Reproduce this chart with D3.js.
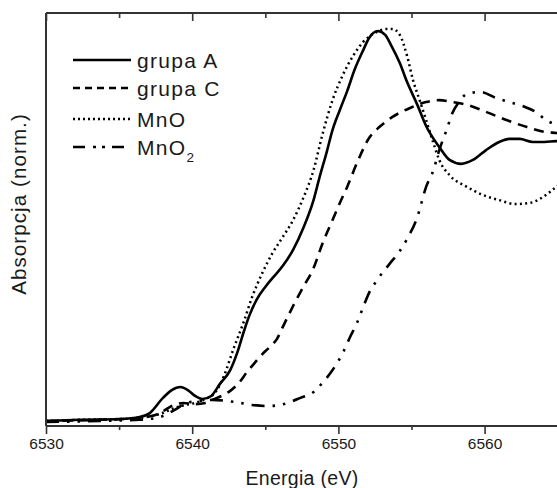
<!DOCTYPE html>
<html>
<head>
<meta charset="utf-8">
<script src="https://cdn.jsdelivr.net/npm/d3@7/dist/d3.min.js"></script>
<style>
    body { margin: 0; background: #fff; }
    text { font-family: Arial, "Liberation Sans", sans-serif; fill: #1a1a1a; }
</style>
</head>
<body>
<div id="chart"></div>
<script>
// [energy (eV), normalised absorption]
const grupaA = [
    [6530.0, 0.000], [6532.3, 0.004], [6535.1, 0.007], [6536.4, 0.014], [6537.1, 0.028],
    [6538.0, 0.082], [6538.6, 0.110], [6539.2, 0.121], [6539.7, 0.110], [6540.2, 0.089],
    [6540.7, 0.078], [6541.3, 0.089], [6541.9, 0.132], [6542.6, 0.181], [6543.1, 0.246],
    [6543.5, 0.313], [6543.9, 0.374], [6544.4, 0.431], [6545.0, 0.477], [6545.5, 0.509],
    [6546.2, 0.552], [6546.9, 0.609], [6547.6, 0.687], [6548.3, 0.786], [6548.7, 0.865],
    [6549.2, 0.957], [6549.6, 1.036], [6550.1, 1.107], [6550.6, 1.174], [6551.1, 1.249],
    [6551.7, 1.320], [6552.1, 1.363], [6552.7, 1.388], [6553.2, 1.374], [6553.6, 1.338],
    [6554.2, 1.274], [6554.7, 1.206], [6555.4, 1.125], [6556.0, 1.050], [6556.9, 0.975],
    [6557.6, 0.929], [6558.4, 0.915], [6559.2, 0.929], [6560.1, 0.964], [6561.0, 0.993],
    [6561.7, 1.004], [6562.4, 1.004], [6563.3, 0.993], [6564.1, 0.993], [6564.9, 0.996],
    [6565.5, 0.996]
];
const grupaC = [
    [6530.0, 0.000], [6533.7, 0.004], [6536.4, 0.011], [6537.8, 0.028], [6538.6, 0.053],
    [6539.4, 0.064], [6540.2, 0.060], [6540.9, 0.064], [6541.4, 0.075], [6542.0, 0.089],
    [6542.6, 0.107], [6543.3, 0.142], [6543.7, 0.171], [6544.1, 0.196], [6544.8, 0.238],
    [6545.3, 0.263], [6545.8, 0.292], [6546.2, 0.335], [6546.9, 0.409], [6547.6, 0.477],
    [6548.3, 0.544], [6548.9, 0.630], [6549.6, 0.715], [6550.1, 0.776], [6550.6, 0.833],
    [6551.3, 0.922], [6552.1, 1.007], [6552.8, 1.046], [6553.7, 1.082], [6554.9, 1.114],
    [6556.0, 1.135], [6556.9, 1.142], [6557.8, 1.135], [6558.8, 1.125], [6560.1, 1.100],
    [6561.5, 1.071], [6562.9, 1.046], [6564.2, 1.028], [6564.9, 1.025], [6565.5, 1.021]
];
const mnO = [
    [6530.0, 0.000], [6532.3, 0.004], [6535.1, 0.007], [6536.4, 0.011], [6537.8, 0.025],
    [6538.8, 0.046], [6539.5, 0.057], [6540.2, 0.064], [6540.9, 0.078], [6541.6, 0.103],
    [6542.2, 0.164], [6542.8, 0.253], [6543.5, 0.349], [6544.1, 0.441], [6544.8, 0.527],
    [6545.5, 0.598], [6546.2, 0.655], [6546.9, 0.715], [6547.6, 0.794], [6548.3, 0.893],
    [6548.9, 1.018], [6549.6, 1.142], [6550.3, 1.231], [6551.0, 1.299], [6551.7, 1.349],
    [6552.6, 1.384], [6553.3, 1.395], [6553.7, 1.395], [6554.2, 1.374], [6554.7, 1.299],
    [6555.1, 1.214], [6555.6, 1.135], [6556.0, 1.071], [6556.5, 0.989], [6556.9, 0.929],
    [6557.6, 0.875], [6558.8, 0.833], [6559.9, 0.804], [6561.0, 0.786], [6562.1, 0.772],
    [6563.1, 0.776], [6564.0, 0.797], [6564.8, 0.829], [6565.5, 0.858]
];
const mnO2 = [
    [6530.0, -0.004], [6533.7, 0.000], [6536.4, 0.004], [6537.8, 0.014], [6538.8, 0.039],
    [6539.6, 0.064], [6540.5, 0.071], [6541.4, 0.075], [6542.4, 0.071], [6543.3, 0.064],
    [6544.1, 0.057], [6545.1, 0.053], [6546.0, 0.057], [6547.4, 0.082], [6548.3, 0.103],
    [6548.9, 0.135], [6549.6, 0.181], [6550.3, 0.242], [6550.8, 0.299], [6551.3, 0.352],
    [6551.7, 0.406], [6552.1, 0.456], [6552.6, 0.498], [6553.5, 0.559], [6554.2, 0.605],
    [6554.7, 0.648], [6555.4, 0.726], [6556.0, 0.833], [6556.5, 0.893], [6556.9, 0.964],
    [6557.4, 1.036], [6557.8, 1.096], [6558.2, 1.132], [6558.8, 1.164], [6559.7, 1.171],
    [6560.8, 1.149], [6561.9, 1.132], [6562.6, 1.121], [6563.6, 1.096], [6564.2, 1.071],
    [6564.9, 1.053], [6565.5, 1.032]
];

const seriesNames = ["grupa A", "grupa C", "MnO", "MnO2"];
const majorTicks = [6530, 6540, 6550, 6560];
const minorTicks = [6535, 6545, 6555];

class XanesChart {
    constructor(parentElement) {
        this.parentElement = parentElement;
        this.initVis();
    }

    initVis() {
        let vis = this;
        vis.margin = {top: 13, right: 0, bottom: 62, left: 46};
        vis.fullWidth = 557;
        vis.fullHeight = 488;
        vis.height = vis.fullHeight - vis.margin.top - vis.margin.bottom;

        vis.svg = d3.select("#" + vis.parentElement).append("svg")
            .attr("width", vis.fullWidth)
            .attr("height", vis.fullHeight);

        vis.g = vis.svg.append("g")
            .attr("transform", `translate(${vis.margin.left},${vis.margin.top})`);

        // x axis runs a bit past the right edge of the picture
        vis.x = d3.scaleLinear().domain([6530, 6565.5]).range([0, 519]);
        vis.y = d3.scaleLinear().domain([-0.018, 1.452]).range([vis.height, 0]);

        // line styles per series (curve / legend sample)
        vis.styles = {
            "grupa A": {width: 2.6, dash: null, legendDash: null},
            "grupa C": {width: 2.6, dash: "10,7", legendDash: "7,5"},
            "MnO": {width: 2.5, dash: "2,3.3", legendDash: "2,3"},
            "MnO2": {width: 2.6, dash: "13,8,2.5,8,2.5,8", legendDash: "12,8,3,6,3,7"}
        };

        vis.wrangleData();
    }

    wrangleData() {
        let vis = this;
        vis.series = [
            {name: seriesNames[0], values: grupaA},
            {name: seriesNames[1], values: grupaC},
            {name: seriesNames[2], values: mnO},
            {name: seriesNames[3], values: mnO2}
        ];
        vis.updateVis();
    }

    updateVis() {
        let vis = this;

        vis.g.append("clipPath").attr("id", "plot-clip")
            .append("rect")
            .attr("x", 0).attr("y", 0)
            .attr("width", vis.x.range()[1]).attr("height", vis.height);

        let line = d3.line()
            .x(d => vis.x(d[0]))
            .y(d => vis.y(d[1]))
            .curve(d3.curveMonotoneX);

        vis.g.append("g").attr("clip-path", "url(#plot-clip)")
            .selectAll("path")
            .data(vis.series)
            .join("path")
            .attr("d", d => line(d.values))
            .attr("fill", "none")
            .attr("stroke", "#000")
            .attr("stroke-width", d => vis.styles[d.name].width)
            .attr("stroke-dasharray", d => vis.styles[d.name].dash)
            .attr("stroke-linejoin", "round");

        // axes: bottom ticks point out, top ticks point in
        let bottom = vis.g.append("g").attr("transform", `translate(0,${vis.height})`);
        bottom.call(d3.axisBottom(vis.x).tickValues(majorTicks).tickSize(8).tickPadding(4).tickFormat(d3.format("d")));
        bottom.append("g").call(d3.axisBottom(vis.x).tickValues(minorTicks).tickSize(4).tickFormat(""));

        let top = vis.g.append("g");
        top.call(d3.axisTop(vis.x).tickValues(majorTicks).tickSize(-8).tickFormat(""));
        top.append("g").call(d3.axisTop(vis.x).tickValues(minorTicks).tickSize(-5).tickFormat(""));

        vis.g.selectAll(".domain").remove();
        vis.g.selectAll(".tick line").attr("stroke", "#333").attr("stroke-width", 1.6);
        bottom.selectAll(".tick text").attr("font-size", 15.5).attr("fill", "#1a1a1a")
            .attr("font-family", "Arial, 'Liberation Sans', sans-serif");

        // frame lines (no right edge inside the picture)
        let right = vis.fullWidth - vis.margin.left + 2;
        vis.g.append("line").attr("x1", 0).attr("x2", right).attr("y1", 0).attr("y2", 0);
        vis.g.append("line").attr("x1", 0).attr("x2", right).attr("y1", vis.height).attr("y2", vis.height);
        vis.g.append("line").attr("x1", 0).attr("x2", 0).attr("y1", 0).attr("y2", vis.height);
        vis.g.selectAll(":scope > line").attr("stroke", "#333").attr("stroke-width", 2);

        // axis titles
        vis.svg.append("text")
            .attr("x", 302).attr("y", 485)
            .attr("text-anchor", "middle")
            .attr("font-size", 19.5)
            .attr("letter-spacing", 0.3)
            .text("Energia (eV)");

        vis.svg.append("text")
            .attr("transform", "translate(26,204) rotate(-90)")
            .attr("text-anchor", "middle")
            .attr("font-size", 20.5)
            .attr("letter-spacing", 1.1)
            .text("Absorpcja (norm.)");

        // legend
        let rowsY = [60, 88, 119, 147];
        let legend = vis.svg.append("g");
        vis.series.forEach((s, i) => {
            let st = vis.styles[s.name];
            legend.append("line")
                .attr("x1", 73).attr("x2", 131)
                .attr("y1", rowsY[i]).attr("y2", rowsY[i])
                .attr("stroke", "#000")
                .attr("stroke-width", st.width)
                .attr("stroke-dasharray", st.legendDash);
            let t = legend.append("text")
                .attr("x", 137).attr("y", rowsY[i] + 7.5)
                .attr("font-size", 21)
                .attr("letter-spacing", 1.3);
            if (s.name === "MnO2") {
                t.append("tspan").text("MnO");
                t.append("tspan").attr("font-size", 13.5).attr("dy", 7).text("2");
            } else {
                t.text(s.name);
            }
        });
    }
}

new XanesChart("chart");
</script>
</body>
</html>
